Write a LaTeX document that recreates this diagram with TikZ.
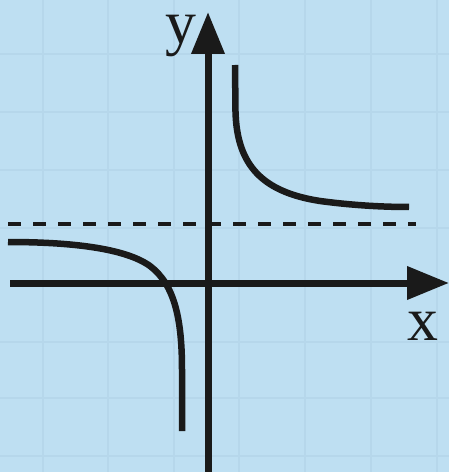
\documentclass[tikz,border=0pt]{standalone}
\usepackage{fontspec}
\setmainfont{Liberation Serif}
\usetikzlibrary{arrows.meta}
\definecolor{bgblue}{HTML}{BEDFF2}
\definecolor{gridblue}{HTML}{B6D7EB}
\definecolor{ink}{HTML}{1A1A1A}
\begin{document}
\begin{tikzpicture}[x=1bp,y=-1bp,
  gridline/.style={gridblue,line width=2.5bp},
  axisline/.style={ink,line width=7bp,-{Triangle[length=42bp,width=32bp]}},
  curveline/.style={ink,line width=6.5bp},
  asym/.style={ink,line width=4bp,dash pattern=on 13bp off 12bp},
  axlabel/.style={inner sep=0pt,text height=30bp,text depth=12bp,font=\fontsize{62}{62}\selectfont,text=ink}]
\fill[bgblue] (0,0) rectangle (449,472);
\useasboundingbox (0,0) rectangle (449,472);
% grid
\foreach \gx in {43,108,174,239,305,371,437} \draw[gridline] (\gx,0) -- (\gx,472);
\foreach \gy in {54,112,170,228,342,398,456} \draw[gridline] (0,\gy) -- (449,\gy);
% coordinates
\coordinate (xs) at (10,283);
\coordinate (xe) at (449,283);
\coordinate (ys) at (208,472);
\coordinate (ye) at (208,12);
\coordinate (ds) at (8,224);
\coordinate (de) at (416,224);
% asymptote
\draw[asym] (ds) -- (de);
% axes
\draw[axisline] (xs) -- (xe);
\draw[axisline] (ys) -- (ye);
% curves
\draw[curveline] (235,65) -- (235.5,112) .. controls (237,165) and (262,192) .. (320,201) .. controls (350,205) and (380,207) .. (409,207);
\draw[curveline] (8,242) .. controls (70,242) and (125,248) .. (150,266) .. controls (175,285) and (182,320) .. (182,370) -- (182,431);
% labels
\node[axlabel,anchor=base] (ylab) at (181,44) {y};
\node[axlabel,anchor=base] (xlab) at (423,340) {x};
\end{tikzpicture}
\end{document}
